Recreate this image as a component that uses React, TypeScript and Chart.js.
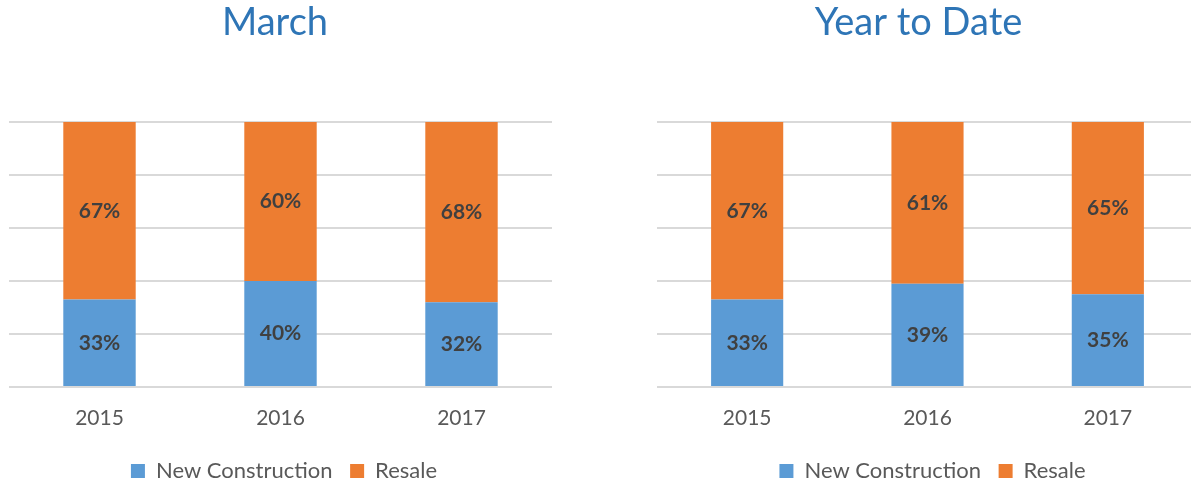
import React, { useEffect, useRef } from "react";
import { Chart, registerables } from "chart.js";

Chart.register(...registerables);

const years = ["2015", "2016", "2017"];
const marchNewConstruction = [33, 40, 32];
const marchResale = [67, 60, 68];
const ytdNewConstruction = [33, 39, 35];
const ytdResale = [67, 61, 65];
const yMin = 0;
const yMax = 100;
const yStep = 20;

const FONT = "Lato";
const BLUE = "#5B9BD5";
const ORANGE = "#ED7D31";
const GRAY = "#595959";

const segmentLabels = {
  id: "segmentLabels",
  afterDatasetsDraw(chart: any) {
    const ctx = chart.ctx;
    ctx.save();
    ctx.font = `bold 21px ${FONT}`;
    ctx.fillStyle = "#404040";
    ctx.textAlign = "center";
    ctx.textBaseline = "middle";
    chart.data.datasets.forEach((ds: any, i: number) => {
      const meta = chart.getDatasetMeta(i);
      meta.data.forEach((el: any, j: number) => {
        const { x, y, base } = el.getProps(["x", "y", "base"], true);
        ctx.fillText(`${ds.data[j]}%`, x, (y + base) / 2);
      });
    });
    ctx.restore();
  },
};

type PanelProps = {
  title: string;
  newVals: number[];
  resaleVals: number[];
  left: number;
  width: number;
  axisWidth: number;
  legendShift: number;
};

function Panel({ title, newVals, resaleVals, left, width, axisWidth, legendShift }: PanelProps) {
  const ref = useRef<HTMLCanvasElement | null>(null);
  useEffect(() => {
    if (!ref.current) return;
    const shiftLegend = {
      id: "shiftLegend",
      afterLayout(chart: any) {
        if (chart.legend) {
          chart.legend.left += legendShift;
          chart.legend.right += legendShift;
        }
      },
    };
    const chart = new Chart(ref.current, {
      type: "bar",
      data: {
        labels: years,
        datasets: [
          { label: "New Construction", data: newVals, backgroundColor: BLUE },
          { label: "Resale", data: resaleVals, backgroundColor: ORANGE },
        ],
      },
      options: {
        responsive: false,
        animation: false,
        devicePixelRatio: 1,
        layout: { padding: { left: 0, right: 0, top: 0, bottom: -8 } },
        datasets: { bar: { categoryPercentage: 1, barPercentage: 0.4 } },
        scales: {
          x: {
            stacked: true,
            grid: { display: false },
            border: { display: false },
            ticks: { color: GRAY, font: { family: FONT, size: 21 }, padding: 11.1 },
          },
          y: {
            stacked: true,
            min: yMin,
            max: yMax,
            ticks: { display: false, stepSize: yStep },
            grid: { color: "#D9D9D9", lineWidth: 2, drawTicks: false },
            border: { display: false },
            afterFit: (scale: any) => {
              scale.width = axisWidth;
            },
          },
        },
        plugins: {
          title: {
            display: true,
            text: title,
            color: "#2E75B6",
            font: { family: FONT, size: 38, weight: "normal" },
            padding: { top: 0, bottom: 76.4 },
          },
          legend: {
            position: "bottom",
            labels: {
              color: GRAY,
              font: { family: FONT, size: 22 },
              boxWidth: 14,
              boxHeight: 14,
              padding: 17.6,
            },
          },
          tooltip: { enabled: false },
        },
      },
      plugins: [segmentLabels, shiftLegend],
    });
    return () => chart.destroy();
  }, []);
  return (
    <canvas
      ref={ref}
      width={width}
      height={484}
      style={{ position: "absolute", left, top: 0, width, height: 484 }}
    />
  );
}

export default function App() {
  return (
    <div
      style={{
        position: "absolute",
        left: 0,
        top: 0,
        width: 1191,
        height: 484,
        overflow: "hidden",
        background: "#fff",
      }}
    >
      <Panel
        title="March"
        newVals={marchNewConstruction}
        resaleVals={marchResale}
        left={-2}
        width={554}
        axisWidth={11}
        legendShift={9}
      />
      <Panel
        title="Year to Date"
        newVals={ytdNewConstruction}
        resaleVals={ytdResale}
        left={639}
        width={559}
        axisWidth={18}
        legendShift={14}
      />
    </div>
  );
}
